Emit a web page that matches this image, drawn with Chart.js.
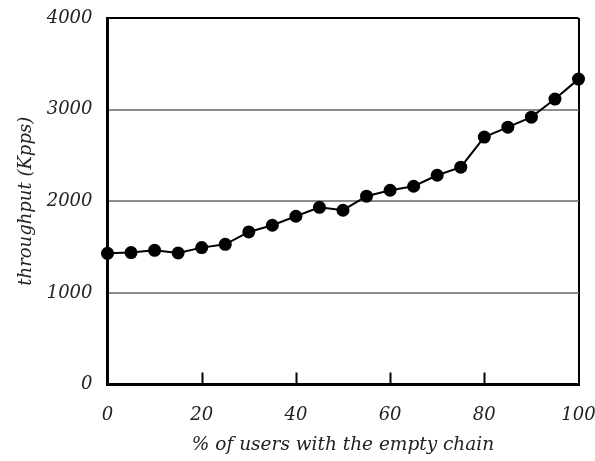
<!DOCTYPE html>
<html>
<head>
<meta charset="utf-8">
<script src="https://cdn.jsdelivr.net/npm/chart.js@4/dist/chart.umd.min.js"></script>
<style>
  html, body { margin: 0; padding: 0; background: #fff; }
  #wrap { width: 595px; height: 461px; }
</style>
</head>
<body>
<div id="wrap"><canvas id="chart" width="595" height="461"></canvas></div>
<script>
// percent of users with the empty chain
var usuarios = [0, 5, 10, 15, 20, 25, 30, 35, 40, 45, 50, 55, 60, 65, 70, 75, 80, 85, 90, 95, 100];
// throughput in Kpps
var throughput = [1432, 1440, 1464, 1435, 1494, 1530, 1665, 1738, 1836, 1934, 1902,
                  2055, 2120, 2164, 2284, 2372, 2700, 2809, 2918, 3115, 3333];
var ticksX = [0, 20, 40, 60, 80, 100];
var ticksY = [0, 1000, 2000, 3000, 4000];

var fuente = "'DejaVu Serif', serif";

var puntos = [];
for (var i in usuarios) {
    puntos.push({x: usuarios[i], y: throughput[i]});
}

// small inward tick marks on the bottom axis
var marcasDentro = {
    id: 'marcasDentro',
    afterDraw: function(chart) {
        var ctx = chart.ctx;
        var sx = chart.scales.x;
        var abajo = chart.chartArea.bottom;
        ctx.save();
        ctx.strokeStyle = '#000';
        ctx.lineWidth = 2;
        for (var i = 1; i < ticksX.length - 1; i++) {
            var px = Math.round(sx.getPixelForValue(ticksX[i])) + 0.5;
            ctx.beginPath();
            ctx.moveTo(px, abajo);
            ctx.lineTo(px, abajo - 12);
            ctx.stroke();
        }
        ctx.restore();
    }
};

var datos = {
    type: 'line',
    data: {
        datasets: [{
            data: puntos,
            borderColor: '#000',
            backgroundColor: '#000',
            borderWidth: 2,
            pointRadius: 6.5,
            pointBackgroundColor: '#000',
            pointBorderColor: '#000',
            pointBorderWidth: 0,
            tension: 0,
            clip: false
        }]
    },
    options: {
        responsive: false,
        animation: false,
        layout: { autoPadding: false, padding: { left: 0, right: 16.5, top: 18, bottom: 0 } },
        plugins: {
            legend: { display: false },
            tooltip: { enabled: false }
        },
        scales: {
            x: {
                type: 'linear',
                min: 0,
                max: 100,
                afterBuildTicks: function(s) {
                    s.ticks = ticksX.map(function(v) { return {value: v}; });
                },
                afterFit: function(s) {
                    s.height = 76.5;
                    s.paddingLeft = 0;
                    s.paddingRight = 0;
                },
                ticks: {
                    color: '#222',
                    padding: 20,
                    maxRotation: 0,
                    callback: function(v) { return String(v); },
                    font: { family: fuente, style: 'italic', size: 18 }
                },
                grid: {
                    drawTicks: false,
                    lineWidth: 2,
                    color: function(c) { return c.tick && c.tick.value === 100 ? '#000' : 'rgba(0,0,0,0)'; }
                },
                border: { display: true, color: '#000', width: 3 },
                title: {
                    display: true,
                    text: '% of users with the empty chain',
                    color: '#222',
                    padding: { top: 0, bottom: 5 },
                    font: { family: fuente, style: 'italic', size: 18.5 }
                }
            },
            y: {
                min: 0,
                max: 4000,
                afterBuildTicks: function(s) {
                    s.ticks = ticksY.map(function(v) { return {value: v}; });
                },
                afterFit: function(s) {
                    s.width = 107.5;
                    s.paddingTop = 0;
                    s.paddingBottom = 0;
                },
                ticks: {
                    color: '#222',
                    padding: 15,
                    callback: function(v) { return String(v); },
                    font: { family: fuente, style: 'italic', size: 18 }
                },
                grid: {
                    drawTicks: false,
                    lineWidth: 2,
                    color: function(c) {
                        if (!c.tick) return 'rgba(0,0,0,0)';
                        if (c.tick.value === 4000) return '#000';
                        if (c.tick.value === 0) return 'rgba(0,0,0,0)';
                        return '#8c8c8c';
                    }
                },
                border: { display: true, color: '#000', width: 3 },
                title: {
                    display: true,
                    text: 'throughput (Kpps)',
                    color: '#222',
                    padding: { top: 16, bottom: 0 },
                    font: { family: fuente, style: 'italic', size: 18 }
                }
            }
        }
    },
    plugins: [marcasDentro]
};

var canvas = document.getElementById('chart').getContext('2d');
window.grafico = new Chart(canvas, datos);
</script>
</body>
</html>
